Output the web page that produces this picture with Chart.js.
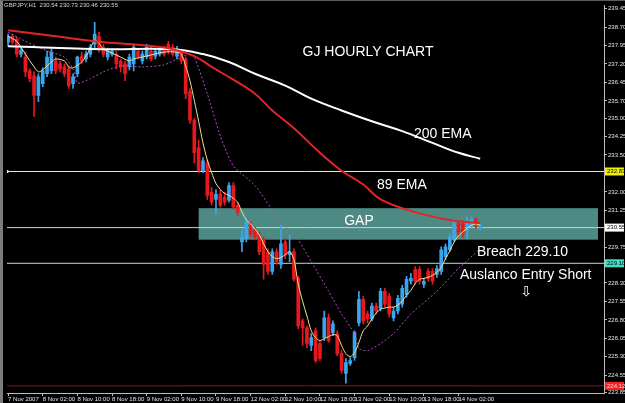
<!DOCTYPE html>
<html>
<head>
<meta charset="utf-8">
<script src="https://cdn.jsdelivr.net/npm/chart.js@4.4.1/dist/chart.umd.min.js"></script>
<style>
  html, body { margin: 0; padding: 0; background: #000; }
  #wrap { width: 622px; height: 402px; border-left: 3px solid #7c7c7c; border-top: 1px solid #5a5a5a; position: relative; }
</style>
</head>
<body>
<div id="wrap"><canvas id="grafico"></canvas></div>
<script>
// GBPJPY H1 - velas de 7 Nov 18:00 ate 14 Nov
const opens = [238.08,238.32,238.20,237.60,237.48,236.92,236.72,235.92,236.40,236.80,
  236.92,237.32,237.20,237.08,237.00,236.40,236.80,237.52,237.40,237.60,
  238.00,238.32,237.88,237.48,237.60,237.60,237.32,237.20,237.08,237.20,
  237.72,237.32,237.48,237.72,237.52,237.60,237.80,238.00,237.88,237.52,
  237.68,237.40,236.08,234.91,233.79,232.86,233.18,231.98,231.70,231.90,
  231.78,231.66,232.26,231.46,229.97,230.09,230.65,230.45,230.25,230.05,
  229.57,228.77,229.57,229.05,229.97,229.45,229.57,228.49,226.76,226.48,
  225.76,226.36,225.84,226.08,226.88,226.28,226.24,225.43,224.63,225.03,
  225.27,226.68,227.64,227.04,226.84,227.36,227.28,227.96,227.76,226.88,
  227.16,227.44,227.84,228.37,228.85,228.85,228.25,228.77,228.77,228.65,
  228.77,229.37,229.65,230.05,230.70,230.70,230.45,230.65,230.86,230.54]
const highs = [238.41,238.41,238.28,237.84,237.68,237.00,236.88,236.80,237.04,237.72,
  237.80,237.48,237.32,237.20,237.12,236.80,237.52,237.68,237.72,238.00,
  238.89,238.49,238.00,237.84,237.80,237.72,237.40,237.32,237.60,238.00,
  237.84,237.72,238.00,237.88,237.80,237.92,237.92,238.12,238.00,237.92,
  237.80,237.48,236.20,234.99,234.11,233.39,233.30,232.18,232.10,232.06,
  231.98,232.38,232.38,231.58,230.45,230.90,230.78,230.57,230.37,230.17,
  229.69,229.69,229.69,230.65,230.09,230.25,229.69,228.57,226.84,226.56,
  226.24,226.48,225.96,227.16,227.04,226.76,226.36,225.55,225.23,225.27,
  226.36,227.96,227.76,227.16,227.48,227.48,228.08,228.08,227.88,227.32,
  227.80,228.20,228.57,228.69,228.97,228.97,228.49,228.89,228.89,229.01,
  229.77,229.89,230.29,230.86,230.82,230.82,230.98,230.98,230.94,230.73]
const lows = [237.92,238.00,237.48,237.48,236.68,236.48,235.07,235.67,236.28,236.68,
  236.80,236.80,236.88,236.68,236.20,236.20,236.68,237.20,237.28,237.48,
  237.80,237.68,237.48,237.36,237.52,237.00,236.88,236.52,236.96,236.92,
  237.40,237.20,237.40,237.32,237.40,237.52,237.52,237.60,237.52,237.40,
  237.20,235.79,234.79,233.18,232.78,232.78,231.70,231.46,231.10,231.38,
  231.46,231.58,231.30,231.06,229.57,229.97,230.17,230.05,229.45,228.45,
  228.65,228.65,229.05,228.89,229.29,229.17,228.37,226.44,225.76,225.67,
  225.55,225.07,225.15,225.96,225.88,226.16,225.35,224.63,224.23,224.95,
  225.15,226.56,226.64,226.68,226.76,227.04,227.16,227.32,226.92,226.76,
  227.04,227.32,227.72,228.25,228.25,228.25,228.12,228.37,228.25,228.53,
  228.65,229.25,229.57,229.97,230.25,230.17,230.09,230.57,230.53,230.46]
const closes = [238.32,238.08,237.60,237.76,236.88,236.60,235.92,236.68,236.92,237.48,
  237.68,236.92,237.00,236.80,236.32,236.68,237.48,237.32,237.60,237.88,
  238.41,237.80,237.60,237.72,237.72,237.20,237.08,236.80,237.48,237.88,
  237.48,237.60,237.88,237.40,237.72,237.80,237.60,237.72,237.60,237.80,
  237.32,235.99,234.91,233.59,232.86,233.26,231.86,231.58,231.90,231.46,
  231.58,232.26,231.38,231.18,230.17,230.78,230.29,230.17,229.57,229.05,
  228.77,229.57,229.17,229.89,229.45,229.57,228.45,226.56,226.48,225.84,
  226.08,225.15,225.23,226.88,225.96,226.64,225.43,224.75,225.07,225.15,
  226.28,227.64,226.76,226.84,227.36,227.16,227.96,227.44,227.04,227.16,
  227.68,228.08,228.45,228.49,228.37,228.37,228.37,228.49,228.37,228.89,
  229.65,229.77,230.17,230.70,230.37,230.29,230.70,230.86,230.65,230.55]

// medias (barra, valor)
const ema200Barras = [0,22,38,45,51,57,64,70,77,84,91,98,104,109]
const ema200 = [237.92,237.80,237.80,237.60,237.28,236.80,236.32,235.79,235.31,234.87,234.47,233.99,233.59,233.35]
const ema89Barras = [0,11,21,31,38,43,47,52,57,61,66,72,77,82,86,94,102,109]
const ema89 = [238.57,238.32,238.10,237.96,237.80,237.52,237.08,236.56,235.99,235.31,234.59,233.59,232.86,232.30,231.70,231.18,230.86,230.73]
const rapidaBarras = [0,2,4,6,7,8,10,11,13,14,15,17,18,19,20,21,22,23,26,28,29,32,36,39,40,41,42,43,44,45,46,
  47,48,49,50,51,52,53,54,55,56,57,58,59,60,61,62,63,64,65,66,67,68,69,70,71,72,73,74,75,76,77,78,
  79,80,81,82,83,84,85,86,87,88,89,90,91,92,93,94,95,96,97,98,99,100,101,102,103,104,105,106,107,108,109]
const rapida = [238.32,238.12,237.60,237.08,236.88,236.96,237.28,237.40,237.32,237.08,237.04,237.28,237.52,237.84,238.16,238.04,237.80,237.72,237.48,237.32,237.40,237.52,237.68,237.68,237.60,237.12,236.52,235.71,234.87,233.99,233.30,
  232.78,232.34,232.10,231.94,231.86,231.74,231.58,231.18,230.86,230.70,230.49,230.25,229.89,229.57,229.37,229.29,229.33,229.45,229.57,229.25,228.25,227.56,226.96,226.36,226.08,225.96,226.04,226.12,226.20,226.16,225.76,225.43,
  225.31,225.47,225.88,226.36,226.56,226.84,227.08,227.24,227.28,227.32,227.32,227.40,227.56,227.80,228.00,228.28,228.45,228.49,228.53,228.61,228.73,228.93,229.29,229.61,229.97,230.21,230.37,230.53,230.65,230.70,230.65]
const pontilhadaBarras = [0,4,8,13,15,16,19,22,26,31,36,40,42,43,46,49,52,57,63,67,70,74,77,80,81,83,86,89,93,99,104,109]
const pontilhada = [238.49,238.12,237.80,237.48,237.00,236.42,236.60,236.88,237.12,237.08,237.16,237.48,237.60,237.48,235.99,234.27,233.06,232.26,230.78,230.05,229.17,227.96,227.04,226.24,225.63,225.55,225.84,226.24,227.04,227.96,228.89,229.69]

const niveis = [232.83, 230.55, 229.10, 224.12]
const ticksPreco = [239.45,238.70,237.95,237.20,236.45,235.70,235.00,234.25,233.50,232.00,231.25,229.75,228.30,227.55,226.80,226.05,225.30,224.55,223.85]
const barrasRotulo = [0,8,16,24,32,40,48,56,64,72,80,88,96,104]
const rotulosTempo = ['7 Nov 2007','8 Nov 02:00','8 Nov 10:00','8 Nov 18:00','9 Nov 02:00','9 Nov 10:00','9 Nov 18:00',
  '12 Nov 02:00','12 Nov 10:00','12 Nov 18:00','13 Nov 02:00','13 Nov 10:00','13 Nov 18:00','14 Nov 02:00']
const zonaGap = { de: 44, ate: 136.2, topo: 231.34, base: 230.06 }

const xMin = -0.25, xMax = 137.59
const azul = '#3ba6f0', vermelho = '#e8181e'
const fonteMini = '"Liberation Sans Narrow", "Liberation Sans", sans-serif'

function corVela(ctx) {
  const i = ctx.dataIndex
  return closes[i] >= opens[i] ? azul : vermelho
}
function pares(barras, valores) {
  return barras.map((b, k) => ({ x: b, y: valores[k] }))
}

const coresNiveis = ['#f2efa6', '#cfcfcf', '#b6e4cc', '#8a1212']
const datasetsNiveis = niveis.map((v, k) => ({
  type: 'line',
  data: [{ x: xMin, y: v }, { x: xMax, y: v }],
  borderColor: coresNiveis[k],
  borderWidth: 1,
  pointRadius: k == 0 ? [2, 0] : 0,
  pointStyle: 'rect',
  pointBackgroundColor: coresNiveis[k],
  pointBorderWidth: 0,
  order: 6
}))

const fundoGap = {
  id: 'fundoGap',
  beforeDatasetsDraw(chart) {
    const { ctx, scales } = chart
    const x1 = scales.x.getPixelForValue(zonaGap.de), x2 = scales.x.getPixelForValue(zonaGap.ate)
    const y1 = scales.y.getPixelForValue(zonaGap.topo), y2 = scales.y.getPixelForValue(zonaGap.base)
    ctx.save()
    ctx.fillStyle = '#4e8a84'
    ctx.fillRect(x1, y1, x2 - x1, y2 - y1)
    ctx.restore()
  }
}

const textos = {
  id: 'textos',
  afterDatasetsDraw(chart) {
    const ctx = chart.ctx
    ctx.save()
    ctx.fillStyle = '#ffffff'
    ctx.textBaseline = 'middle'
    ctx.font = '14px "Liberation Sans", Arial, sans-serif'
    ctx.textAlign = 'center'
    ctx.fillText('GJ HOURLY CHART', 365, 51)
    ctx.fillText('GAP', 356, 220)
    ctx.textAlign = 'left'
    ctx.fillText('200 EMA', 411, 133)
    ctx.fillText('89 EMA', 374, 184)
    ctx.fillText('Breach 229.10', 474, 251)
    ctx.fillText('Auslanco Entry Short', 457, 274)
    ctx.textAlign = 'center'
    ctx.font = '14px "DejaVu Sans", sans-serif'
    ctx.fillText('⇩', 523, 291)
    ctx.textAlign = 'left'
    ctx.fillStyle = '#d8d8d8'
    ctx.font = '6px ' + fonteMini
    ctx.fillText('GBPJPY,H1  230.54 230.73 230.46 230.55', 1, 4)
    ctx.restore()
  }
}

const etiquetas = {
  id: 'etiquetas',
  afterDraw(chart) {
    const { ctx, scales, chartArea } = chart
    const fundos = ['#f0f000', '#ffffff', '#3fe0c8', '#ff2020']
    const letras = ['#000000', '#000000', '#000000', '#ffd6d6']
    ctx.save()
    ctx.font = '6px ' + fonteMini
    ctx.textBaseline = 'middle'
    ctx.textAlign = 'left'
    niveis.forEach((v, k) => {
      const y = scales.y.getPixelForValue(v)
      ctx.fillStyle = fundos[k]
      ctx.fillRect(chartArea.right + 1, y - 4, 19, 8)
      ctx.fillStyle = letras[k]
      ctx.fillText(v.toFixed(2), chartArea.right + 3, y)
    })
    ctx.restore()
  }
}

new Chart(document.getElementById('grafico'), {
  type: 'bar',
  data: {
    datasets: [
      ...datasetsNiveis,
      {
        data: highs.map((h, i) => ({ x: i, y: [lows[i], h] })),
        backgroundColor: corVela,
        barThickness: 1,
        grouped: false,
        order: 5
      },
      {
        data: opens.map((o, i) => ({ x: i, y: [o, closes[i]] })),
        backgroundColor: corVela,
        barThickness: 3,
        minBarLength: 1,
        grouped: false,
        order: 4
      },
      {
        type: 'line',
        data: pares(pontilhadaBarras, pontilhada),
        borderColor: '#b04cc4',
        borderWidth: 1,
        borderDash: [2, 2],
        pointRadius: 0,
        tension: 0.2,
        order: 3
      },
      {
        type: 'line',
        data: pares(rapidaBarras, rapida),
        borderColor: '#efe28e',
        borderWidth: 1,
        pointRadius: 0,
        tension: 0.3,
        order: 2
      },
      {
        type: 'line',
        data: pares(ema89Barras, ema89),
        borderColor: '#e32424',
        borderWidth: 2,
        pointRadius: 0,
        tension: 0.4,
        order: 1
      },
      {
        type: 'line',
        data: pares(ema200Barras, ema200),
        borderColor: '#ffffff',
        borderWidth: 2,
        pointRadius: 0,
        tension: 0.4,
        order: 1
      }
    ]
  },
  options: {
    responsive: true,
    maintainAspectRatio: false,
    animation: false,
    layout: { padding: 0 },
    plugins: {
      legend: { display: false },
      tooltip: { enabled: false }
    },
    scales: {
      x: {
        type: 'linear',
        min: xMin,
        max: xMax,
        offset: false,
        afterBuildTicks: scale => { scale.ticks = barrasRotulo.map(v => ({ value: v })) },
        afterFit: scale => { scale.height = 10 },
        grid: { drawOnChartArea: false, offset: false, tickLength: 3, color: '#bdbdbd' },
        border: { color: '#bdbdbd' },
        ticks: {
          autoSkip: false,
          maxRotation: 0,
          align: 'start',
          padding: 0,
          color: '#e6e6e6',
          font: { size: 6, family: fonteMini },
          callback: (v, i) => rotulosTempo[i]
        }
      },
      y: {
        type: 'linear',
        position: 'right',
        min: 223.83,
        max: 239.57,
        beginAtZero: false,
        afterBuildTicks: scale => { scale.ticks = ticksPreco.map(v => ({ value: v })) },
        afterFit: scale => { scale.width = 21 },
        grid: { drawOnChartArea: false, tickLength: 3, color: '#bdbdbd' },
        border: { color: '#bdbdbd' },
        ticks: {
          autoSkip: false,
          padding: 1,
          color: '#e6e6e6',
          font: { size: 6, family: fonteMini },
          callback: v => v.toFixed(2)
        }
      }
    }
  },
  plugins: [fundoGap, textos, etiquetas]
})
</script>
</body>
</html>
